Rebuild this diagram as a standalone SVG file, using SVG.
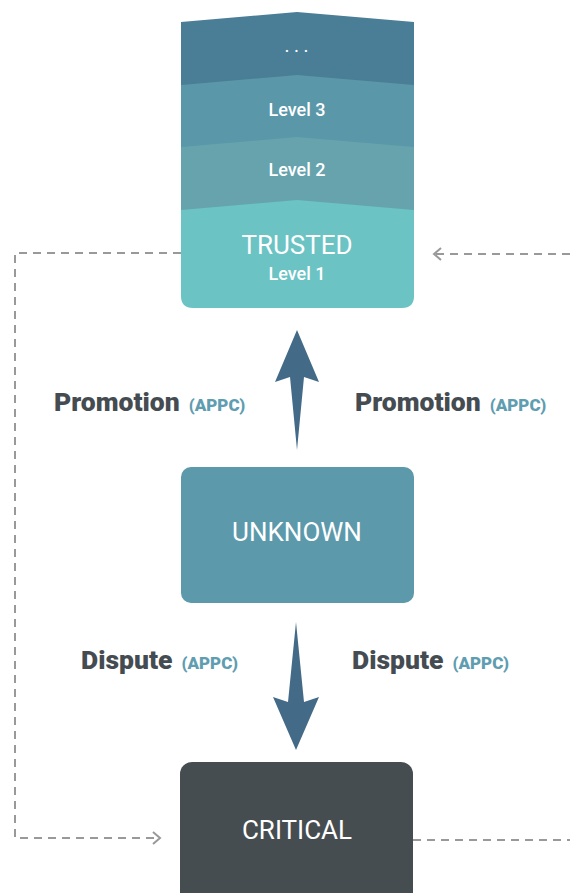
<svg xmlns="http://www.w3.org/2000/svg" width="570" height="893" viewBox="0 0 570 893">
<defs>
<marker id="chev" markerWidth="12" markerHeight="14" refX="10" refY="7" orient="auto" markerUnits="userSpaceOnUse">
<path d="M3,1 L10,7 L3,13" fill="none" stroke="#999" stroke-width="2"/>
</marker>
<style>
.t{font-family:Roboto,"Liberation Sans",sans-serif;fill:#fff;text-anchor:middle;font-weight:500}
.n{font-weight:400}
.lbl{font-family:Roboto,"Liberation Sans",sans-serif;font-weight:900;fill:#454c51;font-size:26.5px}
.ap{font-family:Roboto,"Liberation Sans",sans-serif;font-weight:900;fill:#5f9db0;font-size:17px}
.dash{fill:none;stroke:#999;stroke-width:2;stroke-dasharray:8,6}
.arr{fill:#436b88}
</style>
</defs>
<rect width="570" height="893" fill="#fff"/>
<g id="trusted">
<path d="M181,22 L297,12 L414,22 L414,85 L181,85 Z" fill="#4a7d96"/>
<path d="M181,85 L297,75 L414,85 L414,147 L181,147 Z" fill="#5a97a8"/>
<path d="M181,147 L297,137 L414,147 L414,210 L181,210 Z" fill="#66a3ad"/>
<path d="M181,210 L297,200 L414,210 L414,296 Q414,308 402,308 L193,308 Q181,308 181,296 Z" fill="#6bc3c4"/>
<text class="t" x="299" y="52" font-size="16" letter-spacing="5">...</text>
<text class="t" x="297" y="116" font-size="18">Level 3</text>
<text class="t" x="297" y="176" font-size="18">Level 2</text>
<text class="t n" x="297" y="254" font-size="26">TRUSTED</text>
<text class="t" x="297" y="280" font-size="18">Level 1</text>
</g>
<g id="unknown">
<rect x="181" y="467" width="233" height="136" rx="10" fill="#5b99ab"/>
<text class="t n" x="297" y="541" font-size="26">UNKNOWN</text>
</g>
<g id="critical">
<rect x="180" y="762" width="233" height="150" rx="12" fill="#464d51"/>
<text class="t n" x="297" y="839" font-size="26">CRITICAL</text>
</g>
<g id="connectors">
<path class="arr" d="M297,330 L319,382 L304,377 L297,450 L290,377 L275,382 Z"/>
<path class="arr" d="M296,622 L304,702 L319,697 L296,750 L273,697 L288,702 Z"/>
<path class="dash" d="M181,253 L15,253 L15,838 L160,838" marker-end="url(#chev)"/>
<path class="dash" d="M570,254 L434,254" marker-end="url(#chev)"/>
<path class="dash" d="M413,840 L570,840"/>
</g>
<g id="labels">
<text x="54" y="411"><tspan class="lbl">Promotion</tspan><tspan class="ap" dx="9">(APPC)</tspan></text>
<text x="355" y="411"><tspan class="lbl">Promotion</tspan><tspan class="ap" dx="9">(APPC)</tspan></text>
<text x="81" y="669"><tspan class="lbl">Dispute</tspan><tspan class="ap" dx="9">(APPC)</tspan></text>
<text x="352" y="669"><tspan class="lbl">Dispute</tspan><tspan class="ap" dx="9">(APPC)</tspan></text>
</g>
</svg>
